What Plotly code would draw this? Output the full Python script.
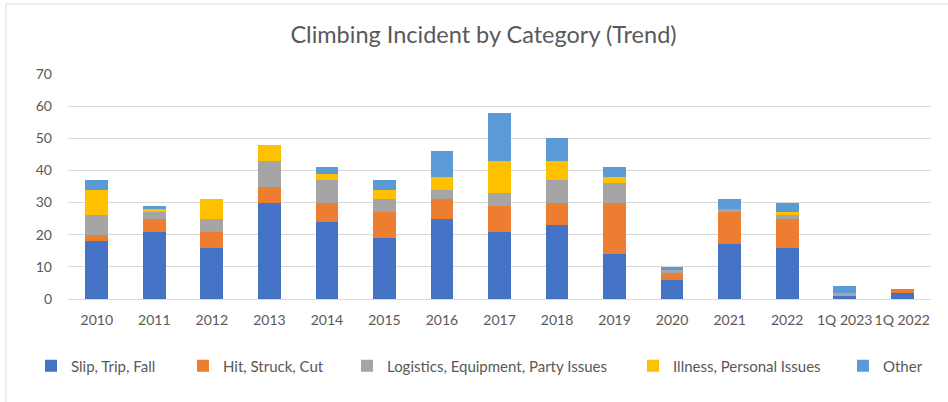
import plotly.graph_objects as go

categories = ["2010", "2011", "2012", "2013", "2014", "2015", "2016", "2017",
              "2018", "2019", "2020", "2021", "2022", "1Q 2023", "1Q 2022"]
slip_trip_fall = [18, 21, 16, 30, 24, 19, 25, 21, 23, 14, 6, 17, 16, 1, 2]
hit_struck_cut = [2, 4, 5, 5, 6, 8, 6, 8, 7, 16, 2, 10, 9, 0, 1]
logistics = [6, 2, 4, 8, 7, 4, 3, 4, 7, 6, 1, 1, 1, 1, 0]
illness = [8, 1, 6, 5, 2, 3, 4, 10, 6, 2, 0, 0, 1, 0, 0]
other = [3, 1, 0, 0, 2, 3, 8, 15, 7, 3, 1, 3, 3, 2, 0]
y_ticks = [0, 10, 20, 30, 40, 50, 60, 70]

series = [
    ("Slip, Trip, Fall", slip_trip_fall, "#4472C4"),
    ("Hit, Struck, Cut", hit_struck_cut, "#ED7D31"),
    ("Logistics, Equipment, Party Issues", logistics, "#A5A5A5"),
    ("Illness, Personal Issues", illness, "#FFC000"),
    ("Other", other, "#5B9BD5"),
]

FONT = "Lato, Calibri, Carlito, sans-serif"
TXT = "#595959"
W, H = 948, 402
L, R, T, B = 68, 17, 74, 103
pw, ph = W - L - R, H - T - B

# legend marker x positions (px) from the reference
legend_x_px = [57, 209, 373, 659, 869]

fig = go.Figure()
for i, (name, vals, col) in enumerate(series):
    lg = "legend" if i == 0 else f"legend{i+1}"
    fig.add_trace(go.Bar(x=categories, y=vals, name=name, marker_color=col,
                         marker_line_width=0, legend=lg))

layout_legends = {}
for i, px in enumerate(legend_x_px):
    key = "legend" if i == 0 else f"legend{i+1}"
    layout_legends[key] = dict(
        x=(px - 26) / W, xref="container", y=1 - 366 / H, yref="container",
        xanchor="left", yanchor="middle", orientation="h",
        font=dict(family=FONT, size=15, color=TXT), bgcolor="rgba(0,0,0,0)",
        itemwidth=30, tracegroupgap=0,
    )

fig.update_layout(
    barmode="stack", bargap=0.605,
    width=W, height=H,
    margin=dict(l=L, r=R, t=T, b=B, autoexpand=False),
    paper_bgcolor="white", plot_bgcolor="white",
    title=dict(text="Climbing Incident by Category (Trend)", x=483.5 / W, xref="container",
               y=1 - 35 / H, yref="container", xanchor="center", yanchor="middle",
               font=dict(family=FONT, size=23.5, color=TXT)),
    showlegend=True,
    **layout_legends,
    xaxis=dict(tickfont=dict(family=FONT, size=14, color=TXT), showgrid=False,
               showline=True, linecolor="#d9d9d9", linewidth=1, ticks="",
               ticklabelstandoff=8),
    yaxis=dict(range=[0, 70], tickvals=y_ticks, tickfont=dict(family=FONT, size=14, color=TXT),
               showgrid=True, gridcolor="#d9d9d9", gridwidth=1, zeroline=False,
               showline=False, ticks="", ticklabelstandoff=15),
    shapes=[dict(type="rect", xref="paper", yref="paper",
                 x0=(6 - L) / pw, x1=(1000 - L) / pw,
                 y0=(H - B - 430) / ph, y1=(H - B - 4) / ph,
                 line=dict(color="#d9d9d9", width=1), fillcolor="rgba(0,0,0,0)", layer="below")],
)

fig.write_html("out.html", config={"displayModeBar": False},
               post_script="document.body.style.margin='0';document.body.style.overflow='hidden';")
